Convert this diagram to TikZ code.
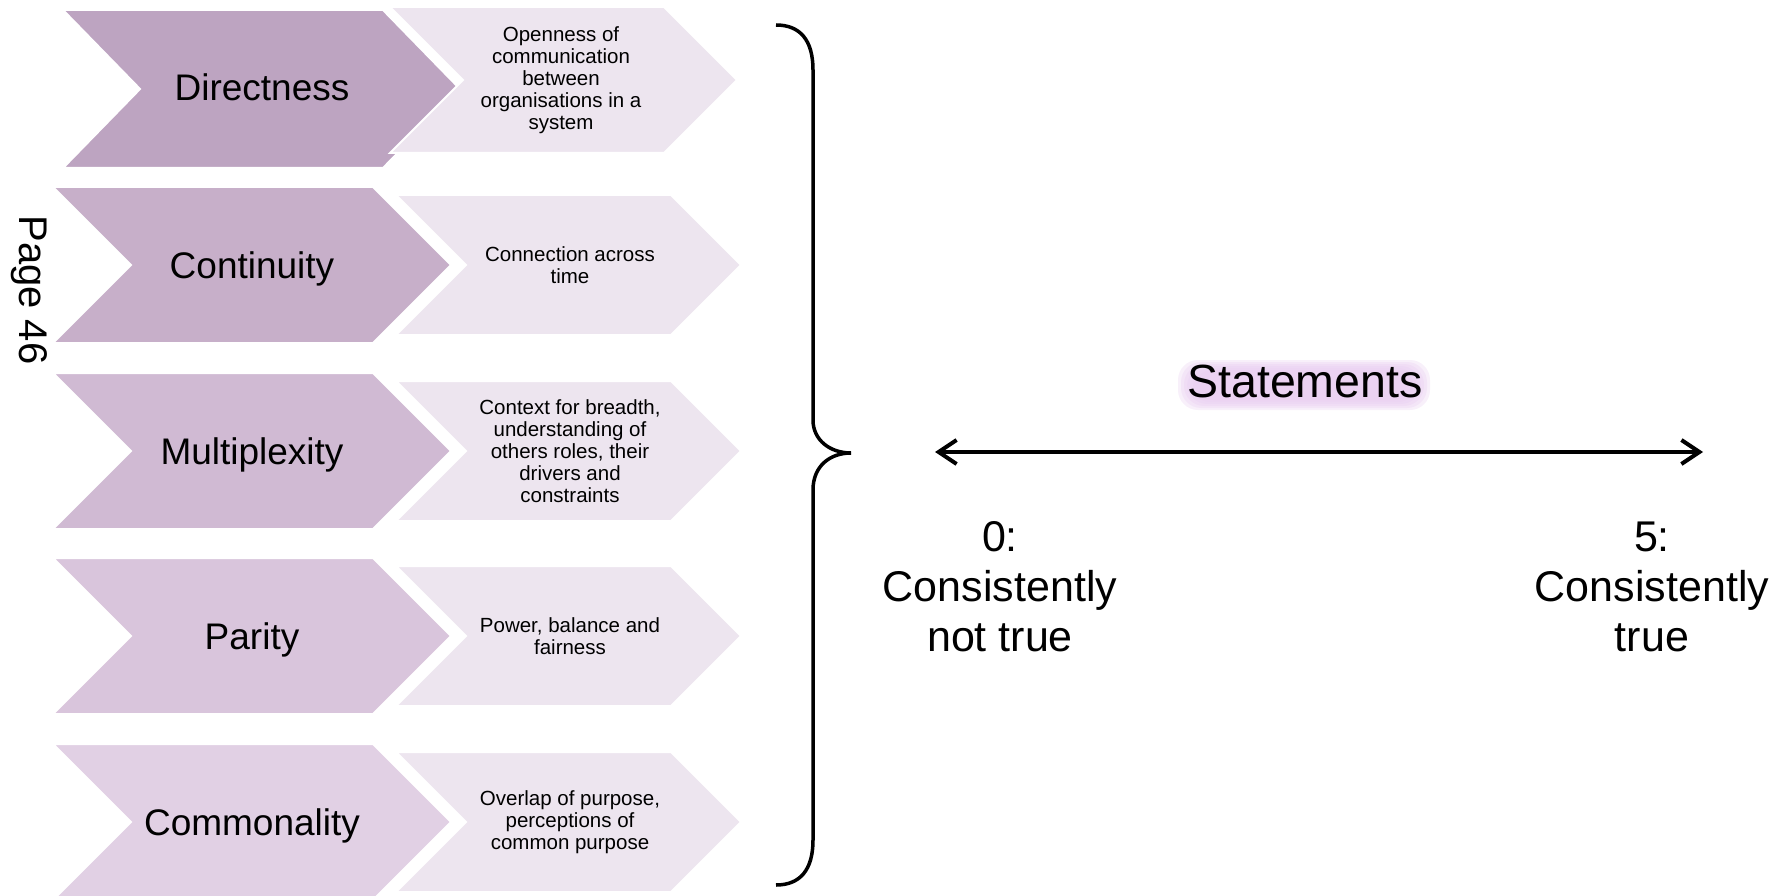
\documentclass[tikz,border=0pt]{standalone}
\usepackage{fontspec}
\setmainfont{Liberation Sans}
\usetikzlibrary{arrows.meta}

\definecolor{plumA}{RGB}{189,164,193}
\definecolor{plumB}{RGB}{199,175,201}
\definecolor{plumC}{RGB}{208,186,211}
\definecolor{plumD}{RGB}{217,197,220}
\definecolor{plumE}{RGB}{225,208,228}
\definecolor{pale}{RGB}{237,229,239}
\definecolor{glow}{RGB}{232,204,240}

\tikzset{
	chev/.style={draw=white, line width=2pt},
	title/.style={anchor=base, font=\fontsize{37}{40}\selectfont},
	desc/.style={align=center, font=\fontsize{20.5}{22}\selectfont},
	ends/.style={align=center, font=\fontsize{43}{50}\selectfont},
}

\begin{document}
\begin{tikzpicture}[x=1pt, y=-1pt]
	\useasboundingbox (0,0) rectangle (1785,896);

	% chevrons
	\path[chev, fill=plumA] (63,10) -- (383,10) -- (460,89) -- (383,168) -- (63,168) -- (140,89) -- cycle;
	\path[chev, fill=pale] (390,7) -- (664,7) -- (737,80) -- (664,153) -- (390,153) -- (463,80) -- cycle;
	\path[chev, fill=plumB] (53,187) -- (373,187) -- (451,265) -- (373,343) -- (53,343) -- (131,265) -- cycle;
	\path[chev, fill=pale] (396,195) -- (671,195) -- (741,265) -- (671,335) -- (396,335) -- (466,265) -- cycle;
	\path[chev, fill=plumC] (53,373) -- (373,373) -- (451,451) -- (373,529) -- (53,529) -- (131,451) -- cycle;
	\path[chev, fill=pale] (396,381) -- (671,381) -- (741,451) -- (671,521) -- (396,521) -- (466,451) -- cycle;
	\path[chev, fill=plumD] (53,558) -- (373,558) -- (451,636) -- (373,714) -- (53,714) -- (131,636) -- cycle;
	\path[chev, fill=pale] (396,566) -- (671,566) -- (741,636) -- (671,706) -- (396,706) -- (466,636) -- cycle;
	\path[chev, fill=plumE] (53,744) -- (373,744) -- (451,822) -- (373,900) -- (53,900) -- (131,822) -- cycle;
	\path[chev, fill=pale] (396,752) -- (671,752) -- (741,822) -- (671,892) -- (396,892) -- (466,822) -- cycle;

	\node[title] (directness) at (262,101) {Directness};
	\node[title] (continuity) at (252,278) {Continuity};
	\node[title] (multiplexity) at (252,464) {Multiplexity};
	\node[title] (parity) at (252,649) {Parity};
	\node[title] (commonality) at (252,835) {Commonality};

	\node[desc] (openness) at (561,80) {Openness of\\communication\\between\\organisations in a\\system};
	\node[desc] (connection) at (570,265) {Connection across\\time};
	\node[desc] (context) at (570,451) {Context for breadth,\\understanding of\\others roles, their\\drivers and\\constraints};
	\node[desc] (power) at (570,636) {Power, balance and\\fairness};
	\node[desc] (overlap) at (570,822) {Overlap of purpose,\\perceptions of\\common purpose};

	\node[rotate=-90, font=\fontsize{40}{44}\selectfont] (page) at (29,290) {Page 46};

	% brace
	\draw[line width=3.5pt] (776,25) .. controls (800,25) and (813,40) .. (813,70) -- (813,420)
		.. controls (813,440) and (830,453) .. (851,453)
		.. controls (830,453) and (813,466) .. (813,490) -- (813,840)
		.. controls (813,870) and (800,885) .. (776,885);

	% scale
	\foreach \g in {0,...,5}
		\fill[glow, opacity=0.3, rounded corners=20pt] (1178+\g*3,360+\g*2) rectangle (1430-\g*3,410-\g*2);
	\node[anchor=base, font=\fontsize{46.5}{50}\selectfont] (statements) at (1305,397) {Statements};

	\coordinate (zero) at (935,452);
	\coordinate (five) at (1703,452);
	\draw[line width=4pt, {Straight Barb[length=18pt,width=24pt]}-{Straight Barb[length=18pt,width=24pt]}] (zero) -- (five);

	\node[ends] (never) at (1000,587) {0:\\Consistently\\not true};
	\node[ends] (always) at (1652,587) {5:\\Consistently\\true};
\end{tikzpicture}
\end{document}
